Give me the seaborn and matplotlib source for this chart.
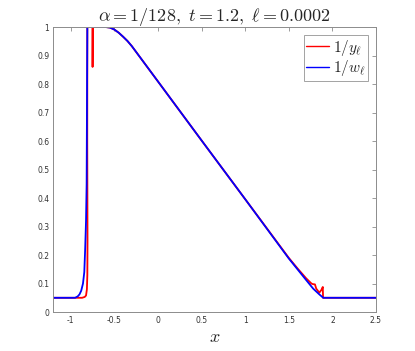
import matplotlib
matplotlib.use('Agg')
import matplotlib.pyplot as plt
import seaborn as sns
import pandas as pd

# 1/w_l (smooth profile)
w_x = [-1.2, -0.95, -0.92, -0.90, -0.88, -0.86, -0.845, -0.835, -0.825, -0.818, -0.813, -0.81,
       -0.70, -0.60, -0.55, -0.50, -0.45, -0.40, -0.35, -0.30, 0.0, 0.5, 1.0, 1.5,
       1.60, 1.70, 1.78, 1.85, 1.895, 2.5]
w_y = [0.05, 0.05, 0.055, 0.062, 0.075, 0.10, 0.14, 0.22, 0.32, 0.45, 0.80, 1.0,
       1.0, 1.0, 0.998, 0.991, 0.980, 0.966, 0.951, 0.933, 0.809, 0.602, 0.396, 0.188,
       0.150, 0.112, 0.082, 0.062, 0.05, 0.05]

# 1/y_l (with oscillations at the fronts)
y_x = [-1.2, -0.87, -0.84, -0.825, -0.815, -0.81, -0.808, -0.811, -0.81, -0.752, -0.75,
       -0.746, -0.60, -0.55, -0.50, -0.45, -0.40, -0.35, -0.30, 0.0, 0.5, 1.0, 1.5,
       1.60, 1.70, 1.76, 1.775, 1.80, 1.815, 1.85, 1.875, 1.89, 1.893, 2.5]
y_y = [0.05, 0.05, 0.053, 0.058, 0.08, 0.13, 0.25, 0.60, 1.0, 1.0, 0.86,
       1.0, 1.0, 0.998, 0.991, 0.980, 0.966, 0.951, 0.933, 0.809, 0.602, 0.396, 0.190,
       0.153, 0.118, 0.100, 0.098, 0.097, 0.082, 0.068, 0.078, 0.088, 0.05, 0.05]

labels = [r'$1/y_\ell$', r'$1/w_\ell$']

df = pd.concat([
    pd.DataFrame({'x': y_x, 'v': y_y, 'series': labels[0]}),
    pd.DataFrame({'x': w_x, 'v': w_y, 'series': labels[1]}),
], ignore_index=True)

sns.set_style('white')
plt.rcParams['mathtext.fontset'] = 'cm'
plt.rcParams['font.family'] = ['DejaVu Sans']

fig = plt.figure(figsize=(4.15, 3.51), dpi=100)
ax = fig.add_axes([0.1285, 0.111, 0.7775, 0.812])

sns.lineplot(data=df, x='x', y='v', hue='series', estimator=None, sort=False,
             palette={labels[0]: '#ff0000', labels[1]: '#0000ff'}, lw=1.3, ax=ax)

ax.set_xlim(-1.2, 2.5)
ax.set_ylim(0, 1)
ax.set_xticks([-1, -0.5, 0, 0.5, 1, 1.5, 2, 2.5])
ax.set_xticklabels(['-1', '-0.5', '0', '0.5', '1', '1.5', '2', '2.5'])
ax.set_yticks([i / 10 for i in range(11)])
ax.set_yticklabels(['0'] + ['%.1f' % (i / 10) for i in range(1, 10)] + ['1'])
ax.tick_params(direction='in', length=3, width=0.6, colors='#8c8c8c',
               labelcolor='#333333', labelsize=5.5, top=True, right=True, pad=3)
for s in ax.spines.values():
    s.set_color('#8c8c8c')
    s.set_linewidth(0.7)

ax.set_xlabel(r'$x$', fontsize=13, labelpad=2)
ax.set_ylabel('')
ax.set_title(r'$\alpha = 1/128,\ t = 1.2,\ \ell = 0.0002$', fontsize=13, pad=4)

leg = ax.legend(loc='upper right', fontsize=11, frameon=True, fancybox=False,
                handlelength=1.5, handletextpad=0.25, borderpad=0.15,
                labelspacing=0.05, borderaxespad=0.55)
leg.get_frame().set_edgecolor('#8c8c8c')
leg.get_frame().set_linewidth(0.7)
for h in leg.get_lines():
    h.set_linewidth(1.0)

fig.savefig('out.png', dpi=100)
